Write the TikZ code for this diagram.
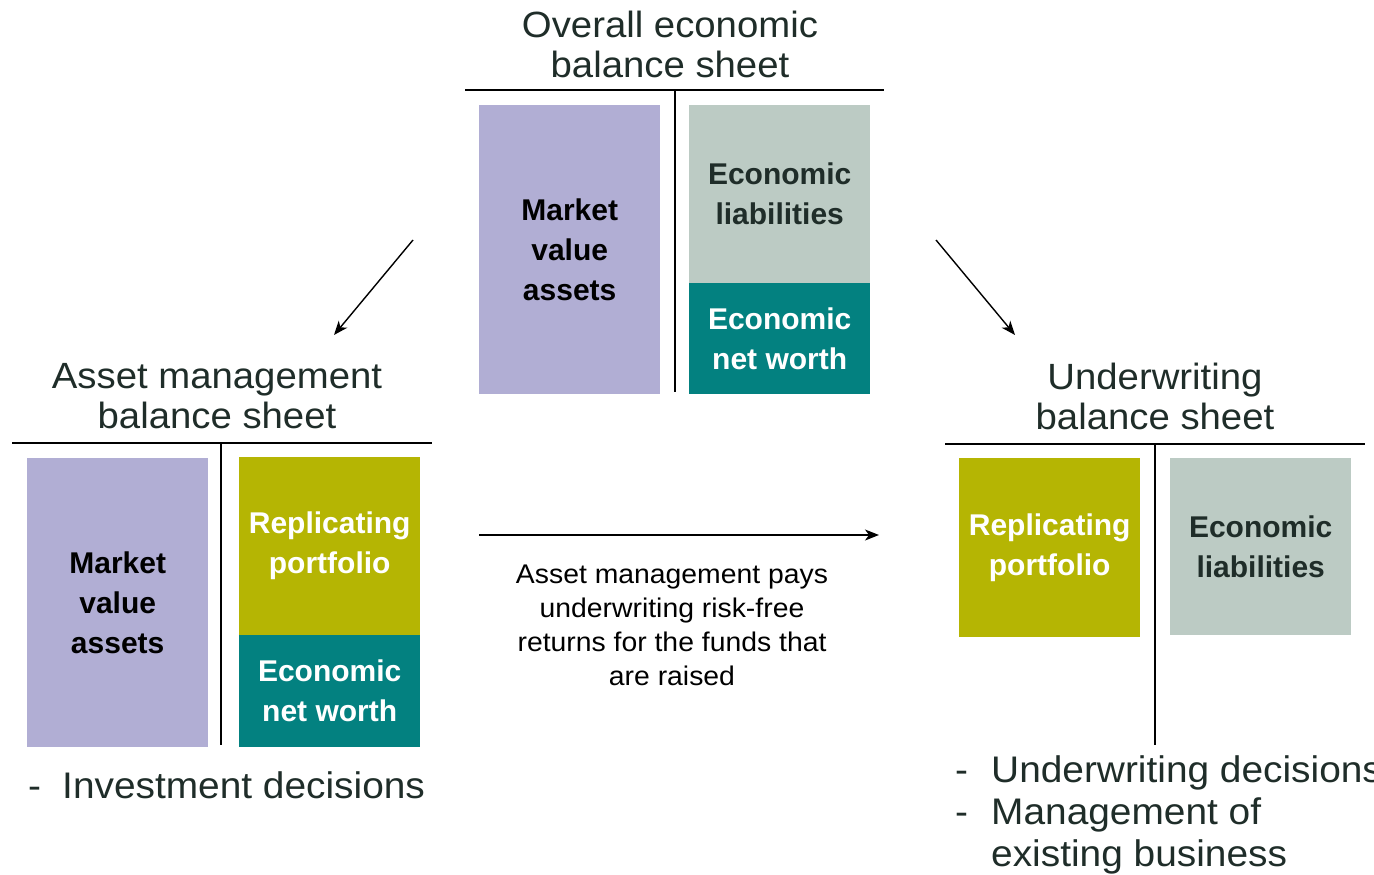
\documentclass[tikz,border=0pt]{standalone}
\usepackage{fontspec}
\setmainfont{Liberation Sans}
\newfontfamily\widesans{Liberation Sans}[FakeStretch=1.05]
\usetikzlibrary{arrows.meta}

\definecolor{mvpurple}{HTML}{B1AED4}
\definecolor{liabgray}{HTML}{BCCBC4}
\definecolor{nwteal}{HTML}{038180}
\definecolor{repolive}{HTML}{B5B503}
\definecolor{ink}{HTML}{1F2D29}

\begin{document}
\begin{tikzpicture}[x=1pt,y=-1pt,
  block/.style={anchor=north west, minimum width=181pt, inner sep=0pt,
    align=center, font=\fontsize{30}{40}\selectfont\bfseries},
  sheettitle/.style={align=center, inner sep=0pt, text=ink,
    font=\widesans\fontsize{36.5}{40}\selectfont},
  tline/.style={line width=2.4pt, draw=black},
  flow/.style={line width=1.4pt, -{Stealth[length=14pt,width=11pt,inset=4pt]}},
  bullet/.style={anchor=base west, inner sep=0pt, text=ink,
    font=\widesans\fontsize{37}{42}\selectfont},
  note/.style={align=center, inner sep=0pt,
    font=\widesans\fontsize{27}{34}\selectfont}
]
\useasboundingbox (0,0) rectangle (1374,875);

% ---- overall economic balance sheet ----
\node[sheettitle] (ttop) at (670,44) {Overall economic\\balance sheet};
\draw[tline] (465,90) -- (884,90);
\draw[tline] (675,90) -- (675,392);
\node[block, fill=mvpurple, minimum height=289pt] (mvaT) at (479,105) {Market\\value\\assets};
\node[block, fill=liabgray, minimum height=178pt, text=ink] (liabT) at (689,105) {Economic\\liabilities};
\node[block, fill=nwteal, minimum height=111pt, text=white] (nwT) at (689,283) {Economic\\net worth};

% ---- asset management balance sheet ----
\node[sheettitle] (tleft) at (217,396) {Asset management\\balance sheet};
\draw[tline] (12,443) -- (432,443);
\draw[tline] (221,443) -- (221,745);
\node[block, fill=mvpurple, minimum height=289pt] (mvaL) at (27,458) {Market\\value\\assets};
\node[block, fill=repolive, minimum height=178pt, text=white] (repL) at (239,457) {Replicating\\portfolio};
\node[block, fill=nwteal, minimum height=112pt, text=white] (nwL) at (239,635) {Economic\\net worth};
\node[bullet] (dashL) at (28,798) {-};
\node[bullet] (invL) at (62,798) {Investment decisions};

% ---- underwriting balance sheet ----
\node[sheettitle] (tright) at (1155,396) {Underwriting\\balance sheet};
\draw[tline] (945,444) -- (1365,444);
\draw[tline] (1155,444) -- (1155,745);
\node[block, fill=repolive, minimum height=179pt, text=white] (repR) at (959,458) {Replicating\\portfolio};
\node[block, fill=liabgray, minimum height=177pt, text=ink] (liabR) at (1170,458) {Economic\\liabilities};
\node[bullet] (dashR1) at (955,782) {-};
\node[bullet] (uwR) at (991,782) {Underwriting decisions};
\node[bullet] (dashR2) at (955,824) {-};
\node[bullet] (mgR) at (991,824) {Management of};
\node[bullet] (exR) at (991,866) {existing business};

% ---- flows between the sheets ----
\coordinate (aLs) at (413,240);
\coordinate (aLe) at (334,335);
\coordinate (aRs) at (936,240);
\coordinate (aRe) at (1015,335);
\coordinate (hS) at (479,535);
\coordinate (hE) at (879,535);
\draw[flow] (aLs) -- (aLe);
\draw[flow] (aRs) -- (aRe);
\draw[flow] (hS) -- (hE);

\node[note] (pays) at (672,625) {Asset management pays\\underwriting risk-free\\returns for the funds that\\are raised};
\end{tikzpicture}
\end{document}
